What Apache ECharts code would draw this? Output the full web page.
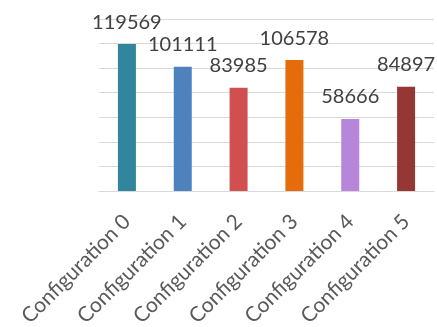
<!DOCTYPE html>
<html><head><meta charset="utf-8">
<script src="https://cdn.jsdelivr.net/npm/echarts@6/dist/echarts.min.js"></script>
<style>html,body{margin:0;padding:0;background:#fff}#c{width:437px;height:327px}</style>
</head><body><div id="c"></div>
<script>
const categories = ["Configuration 0","Configuration 1","Configuration 2","Configuration 3","Configuration 4","Configuration 5"];
const values = [119569, 101111, 83985, 106578, 58666, 84897];
const colors = ["#31859C","#4F81BD","#D05050","#E46C0A","#B586DA","#953735"];
const chart = echarts.init(document.getElementById('c'));
chart.setOption({
  animation:false,
  grid:{left:99,right:3,top:19,bottom:136,containLabel:false,outerBoundsMode:'none'},
  xAxis:{type:'category',data:categories,
    axisLine:{lineStyle:{color:'#D9D9D9',width:1}},axisTick:{show:false},
    axisLabel:{rotate:45,margin:27,align:'right',verticalAlign:'middle',fontFamily:'Lato',fontSize:21,color:'#595959',interval:0}},
  yAxis:{type:'value',min:0,max:140000,interval:20000,axisLabel:{show:false},
    axisLine:{show:false},axisTick:{show:false},
    splitLine:{lineStyle:{color:'#D9D9D9',width:1}}},
  series:[{type:'bar',barWidth:18,
    data:values.map((v,i)=>({value:v,itemStyle:{color:colors[i]}})),
    label:{show:true,position:'top',distance:12,fontFamily:'Lato',fontSize:20,color:'#404040'}}]
});
</script></body></html>
